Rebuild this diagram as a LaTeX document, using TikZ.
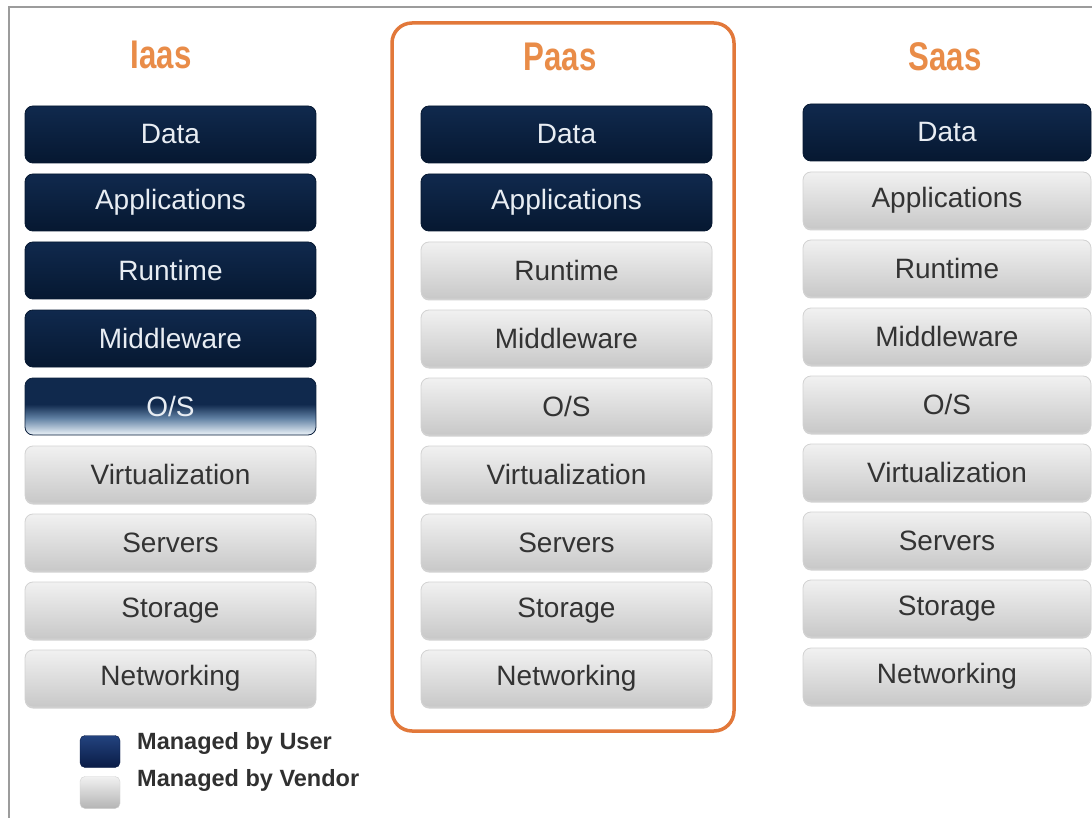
\documentclass[tikz,border=0pt]{standalone}
\usepackage{fontspec}
\setmainfont{Liberation Sans}
\newfontfamily\titlefont{Liberation Sans}[FakeStretch=0.78]
\usetikzlibrary{shadows}

\definecolor{navyTop}{HTML}{10294D}
\definecolor{navyBot}{HTML}{061831}
\definecolor{userText}{HTML}{E8EDF3}
\definecolor{grayTop}{HTML}{F1F1F1}
\definecolor{grayBot}{HTML}{C8C8C8}
\definecolor{grayEdge}{HTML}{D2D2D2}
\definecolor{vendorText}{HTML}{333333}
\definecolor{osLight}{HTML}{DCE6EF}
\definecolor{osMid}{HTML}{5F7FA2}
\definecolor{frameOrange}{HTML}{E2783A}
\definecolor{titleOrange}{HTML}{E98C48}
\definecolor{frameGray}{HTML}{9C9C9C}
\definecolor{legendTop}{HTML}{23437F}
\definecolor{legendBot}{HTML}{0A1C46}
\definecolor{legendText}{HTML}{303030}

% navy fading into pale blue towards the bottom edge
\pgfdeclareverticalshading{osfade}{100bp}{color(0bp)=(osLight); color(27bp)=(osLight);
  color(40bp)=(osMid); color(52bp)=(navyTop); color(100bp)=(navyTop)}

\tikzset{
  layer/.style={rectangle, rounded corners=8pt, minimum height=57pt, inner sep=0pt,
    line width=0.8pt, font=\fontsize{28}{32}\selectfont},
  user/.style={layer, top color=navyTop, bottom color=navyBot, draw=navyBot, text=userText},
  vendor/.style={layer, top color=grayTop, bottom color=grayBot, draw=grayEdge, text=vendorText,
    drop shadow={shadow xshift=0pt, shadow yshift=-1.5pt, opacity=.25, fill=black!70}},
  osbox/.style={layer, shading=osfade, draw=navyTop!80!black, text=userText},
  coltitle/.style={text=titleOrange, font=\titlefont\bfseries\fontsize{40}{44}\selectfont},
  legendkey/.style={rectangle, rounded corners=5pt, minimum width=40pt, minimum height=32pt, inner sep=0pt},
  legendlabel/.style={anchor=west, inner sep=0pt, text=legendText, font=\bfseries\fontsize{23.5}{27}\selectfont}
}

% one stack of nine layers: prefix, x centre, y offset, user layers, width
\newcommand\drawstack[5]{%
  \foreach \lbl [count=\k from 0] in {Data,Applications,Runtime,Middleware,O/S,Virtualization,Servers,Storage,Networking}{%
    \ifnum\k<#4 \def\sty{user}\else\def\sty{vendor}\fi
    \ifnum#4=5 \ifnum\k=4 \def\sty{osbox}\fi\fi
    \node[\sty, minimum width=#5pt] (#1\k) at (#2, {134.5+68*\k+#3}) {\lbl};
  }%
}

\begin{document}
\begin{tikzpicture}[x=1pt, y=-1pt]
  \useasboundingbox (0,0) rectangle (1092,818);
  \fill[white] (0,0) rectangle (1092,818);

  % outer frame, open to the right and bottom
  \coordinate (frameTR) at (1092,7);
  \coordinate (frameTL) at (9,7);
  \coordinate (frameBL) at (9,818);
  \draw[frameGray, line width=2pt] (frameTR) -- (frameTL) -- (frameBL);

  % highlighted platform column
  \node[draw=frameOrange, line width=3.5pt, rounded corners=20pt, minimum width=342pt,
        minimum height=708pt, inner sep=0pt] (paasframe) at (563,377) {};

  % column headings
  \node[coltitle] (iaasT) at (161,55) {Iaas};
  \node[coltitle] (paasT) at (560,57) {Paas};
  \node[coltitle] (saasT) at (945,57) {Saas};

  % the three stacks
  \drawstack{iaas}{170.5}{0}{5}{291}
  \drawstack{paas}{566.5}{0}{2}{291}
  \drawstack{saas}{947}{-2}{1}{288}

  % legend
  \node[legendkey, top color=legendTop, bottom color=legendBot, draw=legendBot] (keyUser) at (100,751.5) {};
  \node[legendkey, top color=grayTop, bottom color=grayBot!90!black, draw=grayEdge] (keyVendor) at (100,792.5) {};
  \node[legendlabel] (lblUser) at (137,743) {Managed by User};
  \node[legendlabel] (lblVendor) at (137,780) {Managed by Vendor};
\end{tikzpicture}
\end{document}
